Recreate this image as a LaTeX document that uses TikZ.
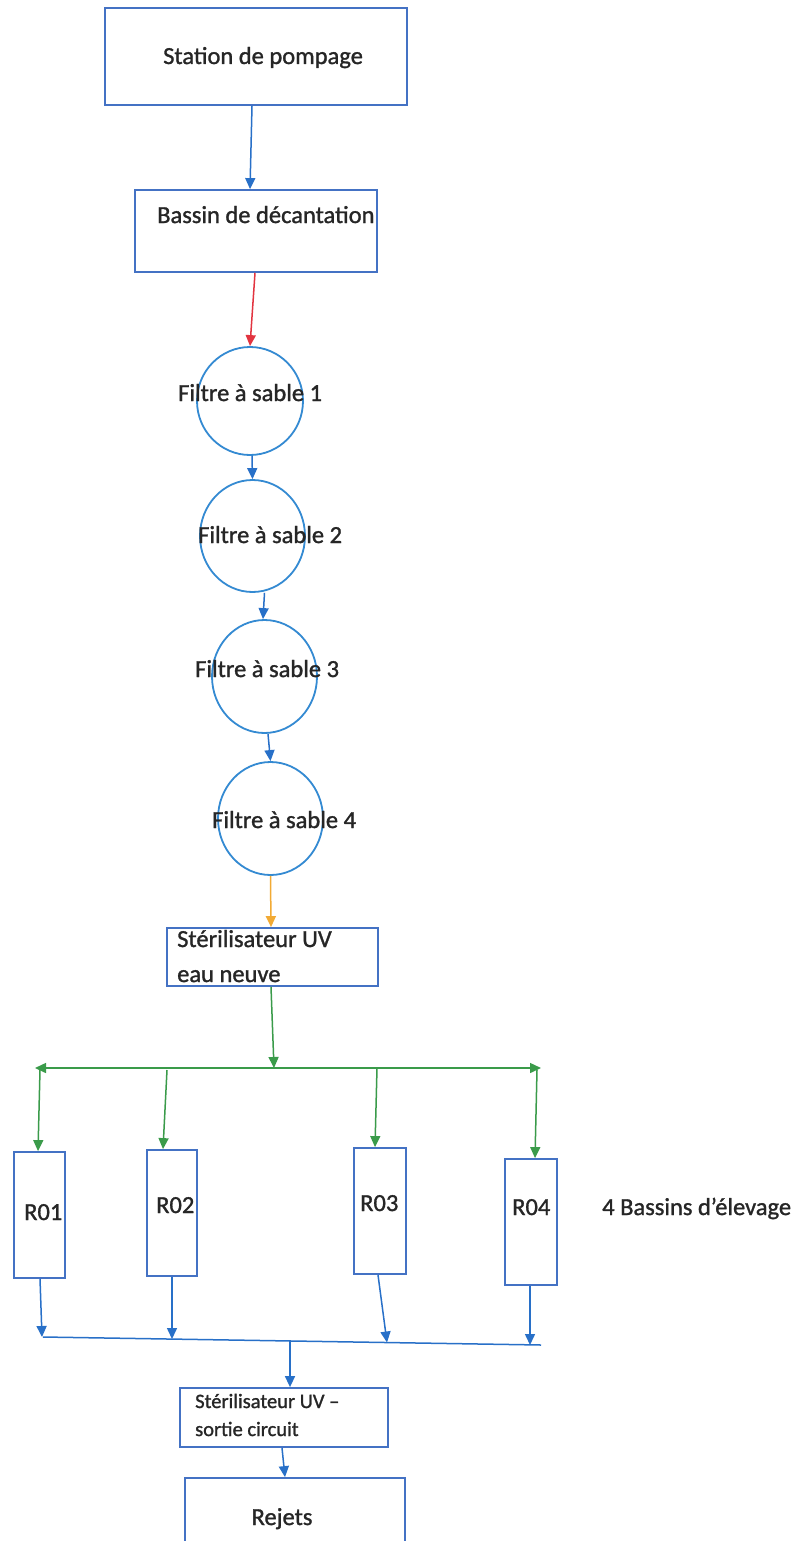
\documentclass[tikz,border=0pt]{standalone}
\usepackage{fontspec}
\setmainfont{Carlito}[FakeBold=1.2]
\usetikzlibrary{arrows.meta,shapes.geometric}
\definecolor{boxblue}{RGB}{68,114,196}
\definecolor{circblue}{RGB}{52,138,210}
\definecolor{arrblue}{RGB}{40,112,200}
\definecolor{myred}{RGB}{226,52,64}
\definecolor{myorange}{RGB}{242,170,52}
\definecolor{mygreen}{RGB}{58,155,74}
\definecolor{textgray}{RGB}{38,38,38}
\begin{document}
\begin{tikzpicture}[x=1pt,y=-1pt,
  box/.style={draw=boxblue, line width=1.8pt, inner sep=0pt, rectangle},
  filt/.style={draw=circblue, line width=1.8pt, inner sep=0pt, ellipse},
  txt/.style={inner sep=0pt, text=textgray, font=\fontsize{24.5}{29}\selectfont, anchor=base west},
  stxt/.style={txt, font=\fontsize{20.5}{24}\selectfont},
  arr/.style={line width=1.5pt, -{Triangle[length=11pt,width=10pt]}},
  barr/.style={arr, draw=arrblue, fill=arrblue},
  rarr/.style={arr, draw=myred, fill=myred},
  oarr/.style={arr, draw=myorange, fill=myorange},
  garr/.style={arr, draw=mygreen, fill=mygreen}]
\useasboundingbox (0,0) rectangle (797,1541);
\fill[white] (0,0) rectangle (797,1541);

% boxes
\node[box, minimum width=302, minimum height=97] (station) at (256,56.5) {};
\node[box, minimum width=242, minimum height=82] (bassin) at (256,231) {};
\node[filt, minimum width=106, minimum height=108] (f1) at (250,401) {};
\node[filt, minimum width=105, minimum height=112] (f2) at (252.5,536) {};
\node[filt, minimum width=105, minimum height=113] (f3) at (264.5,676.5) {};
\node[filt, minimum width=105, minimum height=113] (f4) at (270.5,818.5) {};
\node[box, minimum width=211, minimum height=58] (uv1) at (272.5,957) {};
\node[box, minimum width=51, minimum height=126] (r1) at (39.5,1215) {};
\node[box, minimum width=50, minimum height=126] (r2) at (172,1213) {};
\node[box, minimum width=52, minimum height=126] (r3) at (380,1211) {};
\node[box, minimum width=52, minimum height=126] (r4) at (531,1222) {};
\node[box, minimum width=208, minimum height=59] (uv2) at (284,1417.5) {};
\node[box, minimum width=220, minimum height=72] (rejets) at (295,1514) {};

% texts
\node[txt] (tstation) at (163,64) {Station de pompage};
\node[txt] (tbassin) at (157,223) {Bassin de décantation};
\node[txt] (tf1) at (178,401) {Filtre à sable 1};
\node[txt] (tf2) at (198,543) {Filtre à sable 2};
\node[txt] (tf3) at (195,677) {Filtre à sable 3};
\node[txt] (tf4) at (212,828) {Filtre à sable 4};
\node[txt] (tuv1a) at (177,947) {Stérilisateur UV};
\node[txt] (tuv1b) at (177,982) {eau neuve};
\node[txt] (tr1) at (24,1220) {R01};
\node[txt] (tr2) at (156,1213) {R02};
\node[txt] (tr3) at (360,1211) {R03};
\node[txt] (tr4) at (512,1215) {R04};
\node[txt] (tbassins) at (602,1215) {4 Bassins d’élevage};
\node[stxt] (tuv2a) at (195,1408) {Stérilisateur UV –};
\node[stxt] (tuv2b) at (195,1436) {sortie circuit};
\node[txt, anchor=base] (trejets) at (282,1525) {Rejets};

% main chain
\draw[barr] ([xshift=-4]station.south) -- ([xshift=-6]bassin.north);
\draw[rarr] ([xshift=-1]bassin.south) -- (f1.north);
\draw[barr] ([xshift=2]f1.south) -- (f2.north);
\draw[barr] ([xshift=12]f2.south) -- ([xshift=-1.5]f3.north);
\draw[barr] ([xshift=3.5]f3.south) -- (f4.north);
\draw[oarr] (f4.south) -- ([xshift=-1.5]uv1.north);

% green distribution
\coordinate (busL) at (35,1068);
\coordinate (busR) at (541,1068);
\coordinate (busM) at (274,1068);
\coordinate (b1) at (40,1070);
\coordinate (b2) at (167,1070);
\coordinate (b3) at (377,1068);
\coordinate (b4) at (537,1070);
\draw[garr] ([xshift=-1.5]uv1.south) -- (busM);
\draw[line width=1.5pt, draw=mygreen, fill=mygreen,
  {Triangle[length=11pt,width=10pt]}-{Triangle[length=11pt,width=10pt]}] (busL) -- (busR);
\draw[garr] (b1) -- ([xshift=-1.5]r1.north);
\draw[garr] (b2) -- ([xshift=-9]r2.north);
\draw[garr] (b3) -- ([xshift=-5]r3.north);
\draw[garr] (b4) -- ([xshift=4]r4.north);

% blue collection
\coordinate (cL) at (43,1337);
\coordinate (cR) at (541,1345);
\coordinate (c1) at (42,1337);
\coordinate (c2) at (172,1339);
\coordinate (c3) at (387,1342.5);
\coordinate (c4) at (530,1345);
\coordinate (c0) at (290,1341);
\draw[line width=1.5pt, draw=arrblue] (cL) -- (cR);
\draw[barr] ([xshift=0.5]r1.south) -- (c1);
\draw[barr] (r2.south) -- (c2);
\draw[barr] ([xshift=-2]r3.south) -- (c3);
\draw[barr] ([xshift=-1]r4.south) -- (c4);
\draw[barr] (c0) -- ([xshift=6]uv2.north);
\draw[barr] ([xshift=-2]uv2.south) -- ([xshift=-10]rejets.north);
\end{tikzpicture}
\end{document}
